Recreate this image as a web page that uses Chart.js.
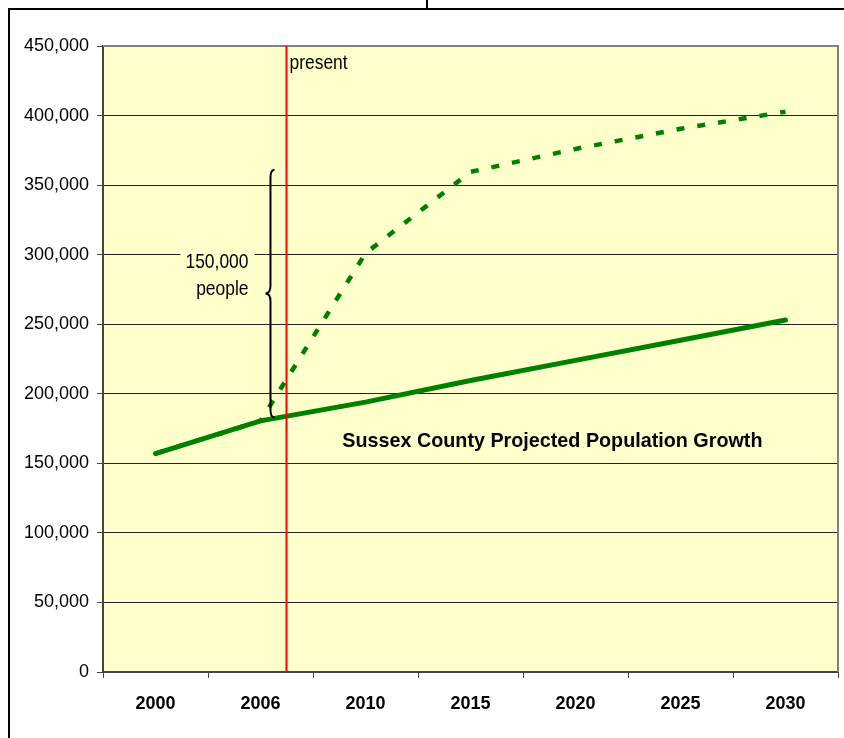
<!DOCTYPE html>
<html>
<head>
<meta charset="utf-8">
<title>Sussex County Projected Population Growth</title>
<script src="https://cdn.jsdelivr.net/npm/chart.js@4.4.1/dist/chart.umd.min.js"></script>
<style>
  html, body { margin: 0; padding: 0; background: #fff; }
  #wrap { width: 844px; height: 738px; }
</style>
</head>
<body>
<div id="wrap"><canvas id="chartGrowth" width="844" height="738"></canvas></div>
<script>
// data
const years = ["2000", "2006", "2010", "2015", "2020", "2025", "2030"];
const currentTrend = [157000, 180500, 194000, 209500, 224000, 238500, 253000];
const fastGrowth = [157000, 180500, 301000, 359500, 376000, 390500, 402800];
const yTickStep = 50000;
const yMax = 450000;

// annotations (in data units)
const presentIndex = 1.24;          // "present", a bit after 2006
const braceIndex = 1.095;
const braceRange = [183000, 361000];  // the "150,000 people" gap
const titleIndex = 3.78;
const titleValue = 166000;

const FONT = "'Liberation Sans', Arial, sans-serif";

// narrow text, like the original's condensed Arial
function narrowText(ctx, text, x, y, squeeze) {
    ctx.save();
    ctx.translate(x, y);
    ctx.scale(squeeze, 1);
    ctx.fillText(text, 0, 0);
    ctx.restore();
}

const backdrop = {
    id: "backdrop",
    beforeDraw(chart) {
        const { ctx, chartArea: a } = chart;
        ctx.save();
        ctx.fillStyle = "#FFFFCC";
        ctx.fillRect(a.left, a.top, a.right - a.left, a.bottom - a.top);
        // outer frame
        ctx.strokeStyle = "#000";
        ctx.lineWidth = 2;
        ctx.beginPath();
        ctx.moveTo(9, 738);
        ctx.lineTo(9, 9);
        ctx.lineTo(844, 9);
        ctx.moveTo(427, 0);
        ctx.lineTo(427, 9);
        ctx.stroke();
        ctx.restore();
    },
};

const notes = {
    id: "notes",
    afterDatasetsDraw(chart) {
        const { ctx, chartArea: a, scales } = chart;
        const xs = scales.x, ys = scales.y;
        const step = xs.getPixelForValue(1) - xs.getPixelForValue(0);
        const px = (i) => xs.getPixelForValue(Math.floor(i)) + (i - Math.floor(i)) * step;
        ctx.save();

        // plot border top / right
        ctx.strokeStyle = "#808080";
        ctx.lineWidth = 2;
        ctx.beginPath();
        ctx.moveTo(a.left, a.top);
        ctx.lineTo(a.right, a.top);
        ctx.lineTo(a.right, a.bottom);
        ctx.stroke();

        // present line
        const rx = Math.round(px(presentIndex)) + 0.5;
        ctx.strokeStyle = "#FF0000";
        ctx.lineWidth = 2;
        ctx.beginPath();
        ctx.moveTo(rx, a.top);
        ctx.lineTo(rx, a.bottom);
        ctx.stroke();

        ctx.fillStyle = "#000";
        ctx.font = "21px " + FONT;
        ctx.textAlign = "left";
        ctx.textBaseline = "middle";
        narrowText(ctx, "present", rx + 3, 63, 0.83);

        // brace
        const bx = px(braceIndex);
        const yTop = ys.getPixelForValue(braceRange[1]);
        const yBot = ys.getPixelForValue(braceRange[0]);
        const yMid = (yTop + yBot) / 2;
        ctx.strokeStyle = "#000";
        ctx.lineWidth = 2;
        ctx.beginPath();
        ctx.moveTo(bx + 4, yTop);
        ctx.quadraticCurveTo(bx, yTop, bx, yTop + 8);
        ctx.lineTo(bx, yMid - 8);
        ctx.quadraticCurveTo(bx, yMid, bx - 5, yMid);
        ctx.quadraticCurveTo(bx, yMid, bx, yMid + 8);
        ctx.lineTo(bx, yBot - 8);
        ctx.quadraticCurveTo(bx, yBot, bx + 4, yBot);
        ctx.stroke();

        const tx = bx - 22;
        ctx.fillStyle = "#FFFFCC";
        ctx.fillRect(tx - 68, yMid - 45, 74, 58);
        ctx.fillStyle = "#000";
        ctx.textAlign = "right";
        narrowText(ctx, "150,000", tx, yMid - 31, 0.83);
        narrowText(ctx, "people", tx, yMid - 4, 0.83);

        // title inside the plot
        ctx.font = "bold 21px " + FONT;
        ctx.textAlign = "center";
        narrowText(ctx, "Sussex County Projected Population Growth",
            px(titleIndex), ys.getPixelForValue(titleValue), 0.94);
        ctx.restore();
    },
};

const ctx = document.getElementById("chartGrowth");
const chart = new Chart(ctx, {
    type: "line",
    data: {
        labels: years,
        datasets: [
            {
                label: "Current trend",
                data: currentTrend,
                borderColor: "#008000",
                borderWidth: 5,
                pointRadius: 0,
                tension: 0,
                borderCapStyle: "round",
            },
            {
                label: "Fast growth",
                data: fastGrowth,
                borderColor: "#008000",
                borderWidth: 4.5,
                borderDash: [8, 13],
                pointRadius: 0,
                tension: 0,
            },
        ],
    },
    options: {
        responsive: false,
        animation: false,
        devicePixelRatio: 1,
        layout: { padding: { left: 0, right: 6, top: 46, bottom: 0 } },
        plugins: {
            legend: { display: false },
            tooltip: { enabled: false },
        },
        scales: {
            x: {
                offset: true,
                grid: {
                    offset: true,
                    drawOnChartArea: false,
                    tickLength: 6,
                    tickColor: "#444",
                },
                border: { color: "#444", width: 2 },
                ticks: {
                    color: "#000",
                    padding: 15,
                    maxRotation: 0,
                    font: { family: FONT, size: 18, weight: "bold" },
                },
                afterFit(s) { s.height = 66; },
            },
            y: {
                min: 0,
                max: yMax,
                grid: {
                    color: "#222",
                    lineWidth: 1,
                    tickLength: 6,
                    tickColor: "#444",
                },
                border: { color: "#444", width: 2 },
                ticks: {
                    stepSize: yTickStep,
                    color: "#000",
                    padding: 8,
                    font: { family: FONT, size: 18 },
                    callback: (v) => v.toLocaleString("en-US"),
                },
                afterFit(s) { s.width = 103; },
            },
        },
    },
    plugins: [backdrop, notes],
});
</script>
</body>
</html>
